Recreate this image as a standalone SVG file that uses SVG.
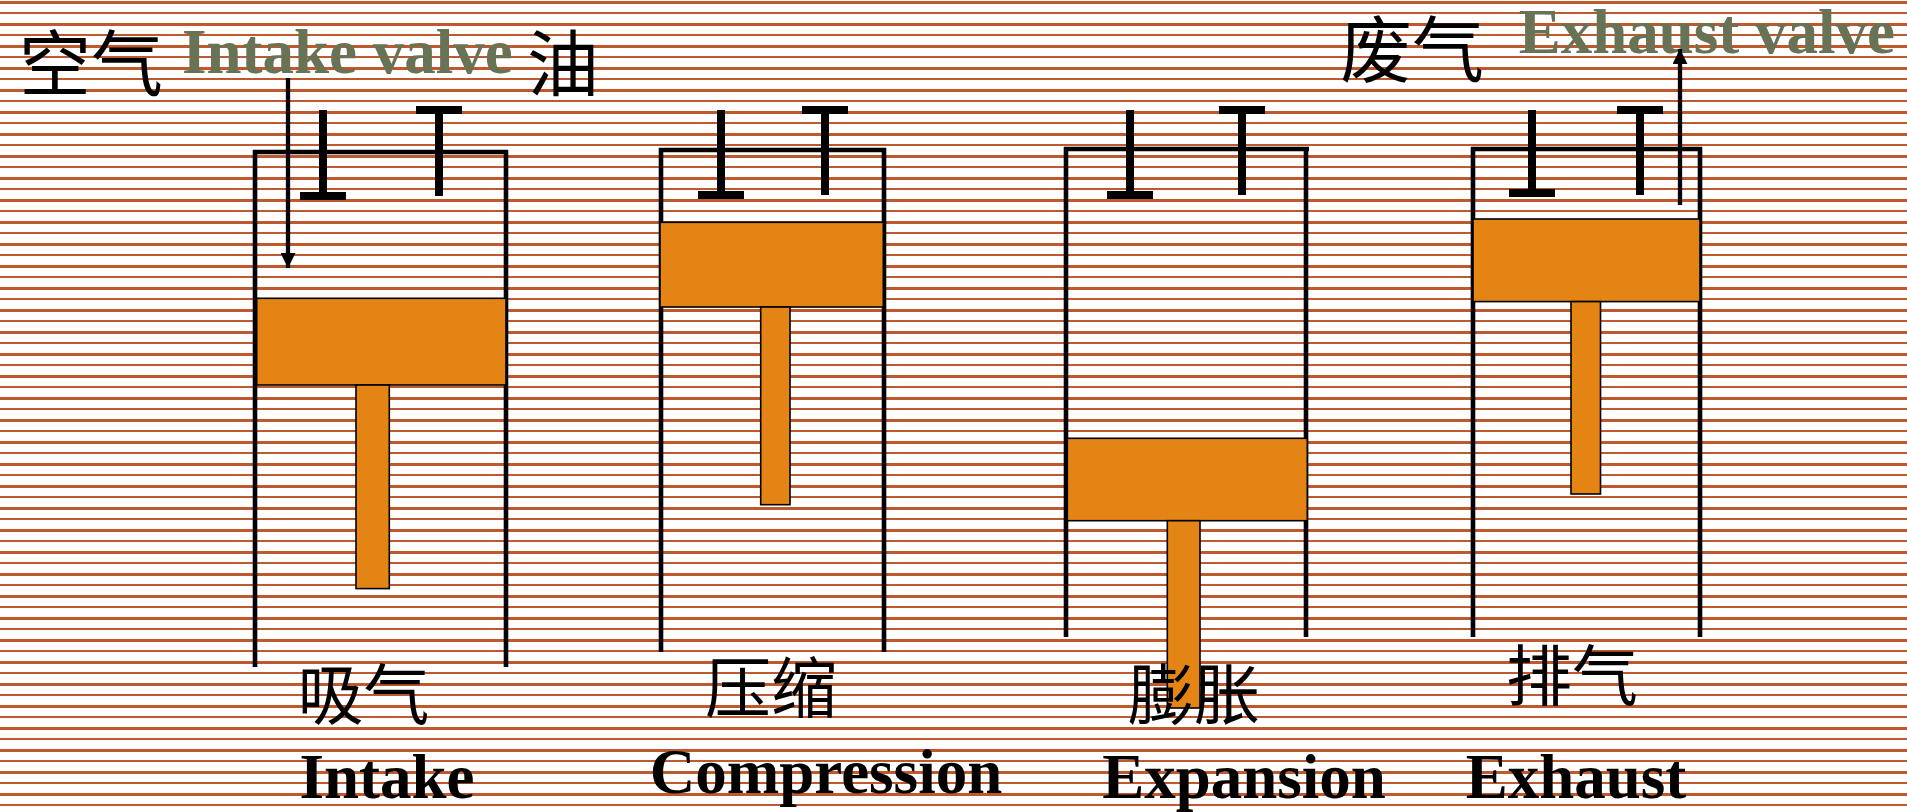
<svg xmlns="http://www.w3.org/2000/svg" width="1907" height="812" viewBox="0 0 1907 812">
  <defs>
    <!-- ruled-paper background: two rules per 22px tile -->
    <pattern id="stripes" patternUnits="userSpaceOnUse" x="0" y="0" width="1907" height="22">
      <rect x="0" y="1" width="1907" height="3" fill="#C0582E"/>
      <rect x="0" y="12" width="1907" height="2" fill="#C0582E"/>
    </pattern>
    <marker id="head" viewBox="0 0 10 10" refX="10" refY="5" markerUnits="userSpaceOnUse" markerWidth="16" markerHeight="15" orient="auto">
      <path d="M0,0 L10,5 L0,10 Z" fill="#000"/>
    </marker>
    <style>
      .wall { stroke: #000; stroke-width: 4.6; fill: none; }
      .valve { fill: #000; }
      .piston { fill: #E48414; stroke: #000; stroke-width: 1.6; }
      .cn { font-family: "Noto Sans CJK SC", "Noto Sans CJK JP", sans-serif; fill: #000; }
      .en { font-family: "Liberation Serif", "Times New Roman", serif; font-weight: bold; font-size: 63px; fill: #000; }
      .gas { fill: #687355; }
      .flow { stroke: #000; stroke-width: 4.3; fill: none; marker-end: url(#head); }
    </style>
  </defs>

  <rect x="0" y="0" width="1907" height="812" fill="#fff"/>
  <rect x="0" y="0" width="1907" height="812" fill="url(#stripes)"/>

  <!-- stroke 1: intake -->
  <g id="cyl-intake">
    <path class="wall" d="M253,152 H508 M255,150 V667 M506,150 V667"/>
    <rect class="valve" x="319" y="110" width="8" height="84"/>
    <rect class="valve" x="300" y="192" width="46" height="8"/>
    <rect class="valve" x="416" y="106" width="46" height="8"/>
    <rect class="valve" x="435" y="110" width="8" height="86"/>
    <rect class="piston" x="256.7" y="298.3" width="249.3" height="86.7"/>
    <rect class="piston" x="356" y="385" width="33.3" height="203.6"/>
    <text class="cn" x="363.6" y="719" font-size="66" text-anchor="middle">吸气</text>
    <text class="en" x="387" y="798.3" text-anchor="middle">Intake</text>
  </g>

  <!-- stroke 2: compression -->
  <g id="cyl-compression">
    <path class="wall" d="M659,150 H886 M661,148 V652 M884,148 V652"/>
    <rect class="valve" x="717" y="110" width="8" height="84"/>
    <rect class="valve" x="698" y="191" width="46" height="8"/>
    <rect class="valve" x="802" y="106" width="46" height="8"/>
    <rect class="valve" x="821" y="110" width="8" height="85"/>
    <rect class="piston" x="660" y="222.3" width="223.3" height="84.7"/>
    <rect class="piston" x="760.7" y="307" width="29.3" height="197.7"/>
    <text class="cn" x="771" y="712" font-size="66" text-anchor="middle">压缩</text>
    <text class="en" x="826" y="793.3" text-anchor="middle">Compression</text>
  </g>

  <!-- stroke 3: expansion -->
  <g id="cyl-expansion">
    <path class="wall" d="M1064,149 H1309 M1066,147 V637 M1306,147 V637"/>
    <rect class="valve" x="1126" y="110" width="8" height="84"/>
    <rect class="valve" x="1107" y="191" width="46" height="8"/>
    <rect class="valve" x="1219" y="106" width="46" height="8"/>
    <rect class="valve" x="1238" y="110" width="8" height="85"/>
    <rect class="piston" x="1067.3" y="438.3" width="240" height="82.4"/>
    <rect class="piston" x="1167.3" y="520.7" width="32.7" height="187.3"/>
    <text class="cn" x="1194" y="719" font-size="66" text-anchor="middle">膨胀</text>
    <text class="en" x="1244" y="798.3" text-anchor="middle">Expansion</text>
  </g>

  <!-- stroke 4: exhaust -->
  <g id="cyl-exhaust">
    <path class="wall" d="M1471,149 H1702 M1473,147 V637 M1700,147 V637"/>
    <rect class="valve" x="1528" y="110" width="8" height="84"/>
    <rect class="valve" x="1509" y="189" width="46" height="8"/>
    <rect class="valve" x="1617" y="106" width="46" height="8"/>
    <rect class="valve" x="1636" y="110" width="8" height="85"/>
    <rect class="piston" x="1473" y="219" width="227" height="82.6"/>
    <rect class="piston" x="1571" y="301.6" width="29.5" height="192.4"/>
    <text class="cn" x="1572" y="700" font-size="66" text-anchor="middle">排气</text>
    <text class="en" x="1576" y="798.3" text-anchor="middle">Exhaust</text>
  </g>

  <!-- gas labels -->
  <g id="label-intake">
    <text class="cn" x="19" y="90" font-size="72">空气</text>
    <text class="en gas" x="182" y="73.3">Intake valve</text>
    <text class="cn" x="527" y="90" font-size="72">油</text>
  </g>
  <g id="label-exhaust">
    <text class="cn" x="1340" y="76" font-size="72">废气</text>
    <text class="en gas" x="1518.7" y="53.3">Exhaust valve</text>
  </g>

  <!-- flow arrows -->
  <g id="connectors">
    <path class="flow" d="M288,78 V268"/>
    <path class="flow" d="M1680,205 V49"/>
  </g>
</svg>
